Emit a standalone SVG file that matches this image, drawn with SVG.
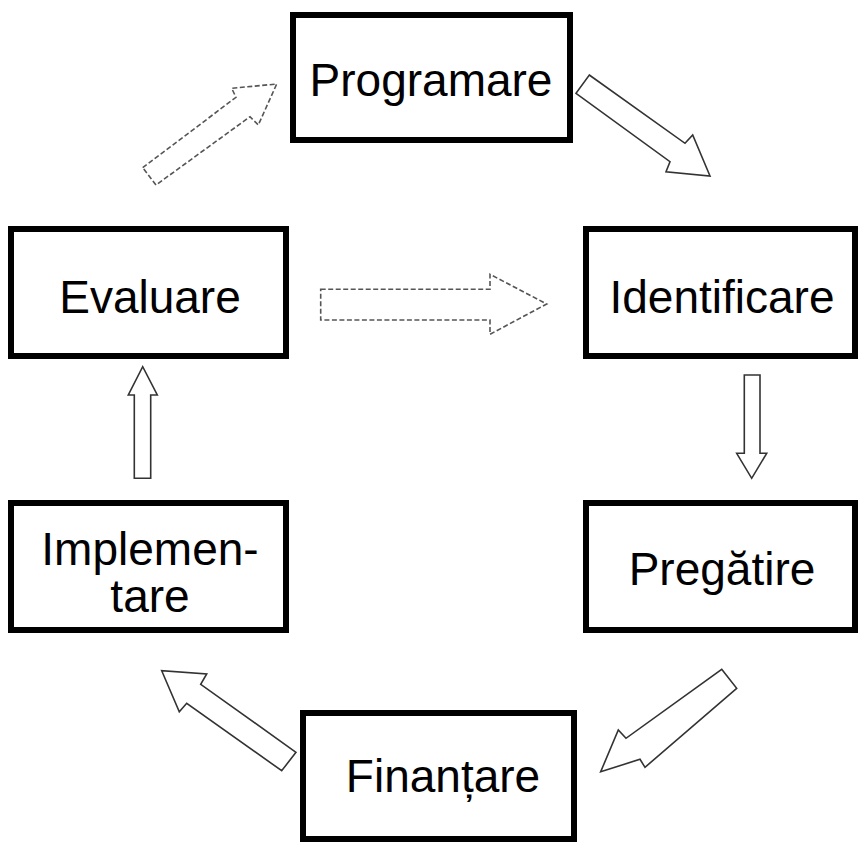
<svg xmlns="http://www.w3.org/2000/svg" width="859" height="842" viewBox="0 0 859 842">
<style>
.box{fill:#fff;stroke:#000;stroke-width:6}
.lbl{font-family:"Liberation Sans",Arial,sans-serif;font-size:46px;fill:#000;text-anchor:middle}
.arr{fill:#fff;stroke:#333;stroke-width:1.6;stroke-linejoin:miter}
.dash{stroke:#555;stroke-dasharray:5 2.5}
</style>
<rect width="859" height="842" fill="#fff"/>
<g id="connectors">
<polygon class="arr dash" points="142.7,167.7 236,97.3 231.7,88.3 276.7,84 258.3,125 250,116.7 156,185"/>
<polygon class="arr" points="589.3,75 685,143.3 692.7,135 710,176 666,171.7 670,161.7 576,93.3"/>
<polygon class="arr dash" points="320.7,289.3 490,289.3 490,274.3 546.7,304 490,334.3 490,320 320.7,320"/>
<polygon class="arr" points="744.3,375 760,375 760,453.3 766.7,453.3 751.7,478.3 736.7,453.3 744.3,453.3"/>
<polygon class="arr" points="721.7,669.3 736.7,688.3 645,767.3 640,759.3 600.7,771.7 618.3,730 626,738.3"/>
<polygon class="arr" points="296,752.3 281.7,770.7 186.7,703.3 179.3,711.7 161.7,670.7 206.7,674 200.7,684.3"/>
<polygon class="arr" points="134.3,478.3 150.7,478.3 150.7,395 157.3,395 142.7,366.7 128.3,395 134.3,395"/>
</g>
<g id="programare"><rect class="box" x="293" y="15" width="277" height="125"/><text class="lbl" x="431" y="96">Programare</text></g>
<g id="identificare"><rect class="box" x="586" y="229" width="269" height="127"/><text class="lbl" x="722" y="313">Identificare</text></g>
<g id="pregatire"><rect class="box" x="586" y="503" width="269" height="127"/><text class="lbl" x="722" y="585">Pregătire</text></g>
<g id="finantare"><rect class="box" x="303" y="713" width="271" height="126"/><text class="lbl" x="443" y="792">Finanțare</text></g>
<g id="implementare"><rect class="box" x="11" y="503" width="275" height="127"/><text class="lbl" x="150" y="565">Implemen-</text><text class="lbl" x="150" y="612">tare</text></g>
<g id="evaluare"><rect class="box" x="11" y="229" width="275" height="127"/><text class="lbl" x="150" y="313">Evaluare</text></g>
</svg>
